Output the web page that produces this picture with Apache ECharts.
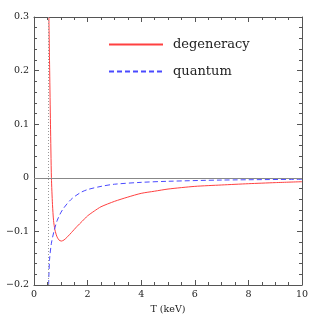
<!DOCTYPE html>
<html><head><meta charset="utf-8">
<script src="https://cdn.jsdelivr.net/npm/echarts@6/dist/echarts.min.js"></script>
<style>html,body{margin:0;padding:0;background:#fff}#c{width:319px;height:319px}</style>
</head><body><div id="c"></div>
<script>
const seriesNames = ['degeneracy', 'quantum'];
const degT = [0.555,0.585,0.615,0.65,0.69,0.73,0.78,0.85,0.93,1.02,1.12,1.25,1.4,1.6,1.8,2.0,2.25,2.5,3.0,3.5,4,4.5,5,6,7,8,9,10];
const degV = [0.3,0.2,0.1,0.0,-0.05,-0.08,-0.097,-0.109,-0.116,-0.118,-0.116,-0.110,-0.102,-0.091,-0.081,-0.071,-0.062,-0.054,-0.044,-0.036,-0.029,-0.025,-0.021,-0.016,-0.0134,-0.011,-0.009,-0.0073];
const quaT = [0.545,0.58,0.65,0.75,0.87,1.06,1.37,1.72,2.0,2.5,3,4,5,7,10];
const quaV = [-0.2,-0.153,-0.122,-0.099,-0.079,-0.060,-0.041,-0.028,-0.022,-0.016,-0.012,-0.0085,-0.0065,-0.0042,-0.0028];
const refLineT = 0.55;
const zeroLine = 0;
const xTicks = {min:0, max:10, interval:2};
const yTicks = {min:-0.2, max:0.3, interval:0.1};
const xName = 'T (keV)';
const yName = 'relative size of correction';

const font = 'DejaVu Serif';
const axisCol = '#555';
const fmtY = v => { if (Math.abs(v) < 1e-9) return '0'; const s = Math.abs(v).toFixed(1); return (v < 0 ? '\u2212' : '') + s; };
const baseAxis = {
  axisLine:{show:true, onZero:false, lineStyle:{color:axisCol, width:1}},
  axisTick:{show:true, inside:true, length:5, lineStyle:{color:axisCol}},
  splitLine:{show:false},
};
const chart = echarts.init(document.getElementById('c'), null, {renderer:'canvas'});
chart.setOption({
  animation:false,
  backgroundColor:'#fff',
  grid:{left:34, right:17, top:17, bottom:34, containLabel:false, outerBoundsMode:'none'},
  legend:{
    orient:'vertical', left:108, top:38, padding:0, itemGap:14, itemWidth:54, itemHeight:14,
    data:seriesNames,
    itemStyle:{opacity:0},
    textStyle:{fontFamily:font, fontSize:13, color:'#222', padding:[0,0,0,5]}
  },
  xAxis:[
    Object.assign({type:'value', min:xTicks.min, max:xTicks.max, interval:xTicks.interval, position:'bottom',
      name:xName, nameLocation:'middle', nameGap:19,
      nameTextStyle:{fontFamily:font, fontSize:9.5, color:'#222'},
      axisLabel:{fontFamily:font, fontSize:9.5, color:'#222', margin:5},
      }, baseAxis, {minorTick:{show:true, splitNumber:4, length:3, lineStyle:{color:axisCol}}}),
    Object.assign({type:'value', min:xTicks.min, max:xTicks.max, interval:xTicks.interval, position:'top',
      axisLabel:{show:false}}, baseAxis, {minorTick:{show:true, splitNumber:4, length:3, lineStyle:{color:axisCol}}})
  ],
  yAxis:[
    Object.assign({type:'value', min:yTicks.min, max:yTicks.max, interval:yTicks.interval, position:'left',
      name:yName, nameLocation:'middle', nameGap:28,
      nameTextStyle:{fontFamily:font, fontSize:9.5, color:'#222'},
      axisLabel:{fontFamily:font, fontSize:9.5, color:'#222', margin:5, formatter:fmtY}},
      baseAxis, {minorTick:{show:true, splitNumber:5, length:3, lineStyle:{color:axisCol}}}),
    Object.assign({type:'value', min:yTicks.min, max:yTicks.max, interval:yTicks.interval, position:'right',
      axisLabel:{show:false}}, baseAxis, {minorTick:{show:true, splitNumber:5, length:3, lineStyle:{color:axisCol}}})
  ],
  series:[
    {name:seriesNames[0], type:'line', xAxisIndex:0, yAxisIndex:0, showSymbol:false, symbol:'none', smooth:0.25,
     data:degT.map((t,i)=>[t,degV[i]]), lineStyle:{color:'#ff4040', width:1}, itemStyle:{color:'#ff4040'},
     markLine:{silent:true, symbol:'none', label:{show:false},
       data:[{yAxis:zeroLine, lineStyle:{color:'#888', width:1, type:'solid'}},
             {xAxis:refLineT, lineStyle:{color:'#999', width:1, type:[1,2]}}]}},
    {name:seriesNames[1], type:'line', xAxisIndex:0, yAxisIndex:0, showSymbol:false, symbol:'none', smooth:0.3,
     data:quaT.map((t,i)=>[t,quaV[i]]), lineStyle:{color:'#4a4aff', width:1, type:[5,3]}, itemStyle:{color:'#4a4aff'}}
  ]
});
</script></body></html>
